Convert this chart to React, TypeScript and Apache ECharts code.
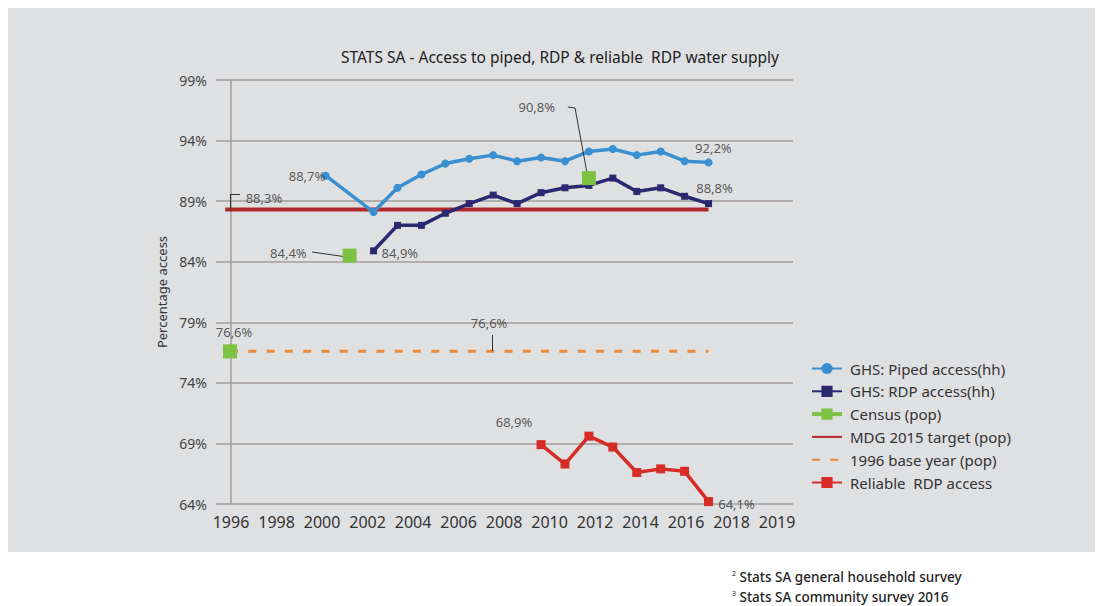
import React, { useEffect, useRef } from "react";
import * as echarts from "echarts";

const titleText = "STATS SA - Access to piped, RDP & reliable  RDP water supply";
const yAxisName = "Percentage access";
const xTickLabels = ["1996", "1998", "2000", "2002", "2004", "2006", "2008", "2010", "2012", "2014", "2016", "2018", "2019"];
const xTickIndex = [0, 1, 2, 3, 4, 5, 6, 7, 8, 9, 10, 11, 12];
const yTicks = [64, 69, 74, 79, 84, 89, 94, 99];

const seriesNames = [
  "GHS: Piped access(hh)",
  "GHS: RDP access(hh)",
  "Census (pop)",
  "MDG 2015 target (pop)",
  "1996 base year (pop)",
  "Reliable  RDP access",
];

const pipedYears = [2000, 2002, 2003, 2004, 2005, 2006, 2007, 2008, 2009, 2010, 2011, 2012, 2013, 2014, 2015, 2016];
const pipedValues = [91.1, 88.1, 90.1, 91.2, 92.1, 92.5, 92.8, 92.3, 92.6, 92.3, 93.1, 93.3, 92.8, 93.1, 92.3, 92.2];

const rdpYears = [2002, 2003, 2004, 2005, 2006, 2007, 2008, 2009, 2010, 2011, 2012, 2013, 2014, 2015, 2016];
const rdpValues = [84.9, 87.0, 87.0, 88.0, 88.8, 89.5, 88.8, 89.7, 90.1, 90.3, 90.9, 89.8, 90.1, 89.4, 88.8];

const censusYears = [1996, 2001, 2011];
const censusValues = [76.6, 84.5, 90.9];

const mdgYears = [1995.8, 2016];
const mdgValues = [88.3, 88.3];

const baseYears = [1996, 2016];
const baseValues = [76.6, 76.6];

const reliableYears = [2009, 2010, 2011, 2012, 2013, 2014, 2015, 2016];
const reliableValues = [68.9, 67.3, 69.6, 68.7, 66.6, 66.9, 66.7, 64.2];

const noteTexts = ["88,7%", "88,3%", "84,4%", "84,9%", "90,8%", "92,2%", "88,8%", "76,6%", "76,6%", "68,9%", "64,1%"];
const noteX = [1999.22, 1997.42, 1998.44, 2003.1, 2008.82, 2016.2, 2016.25, 1996.17, 2006.83, 2007.87, 2017.17];
const noteY = [91.08, 89.28, 84.72, 84.72, 96.77, 93.39, 90.09, 78.2, 78.94, 70.77, 64.0];

const leaderFrom = [[1999.43, 84.8], [1996, 88.27], [1996, 89.59], [2010.12, 96.77], [2010.42, 96.69], [2006.95, 77.95]];
const leaderTo = [[2000.89, 84.39], [1996, 89.59], [1996.42, 89.59], [2010.42, 96.69], [2010.96, 90.91], [2006.95, 76.63]];

const footnoteMarks = ["2", "3"];
const footnoteTexts = ["Stats SA general household survey", "Stats SA community survey 2016"];

const FONT = "'Noto Sans', 'Open Sans', sans-serif";

const zip = (xs: number[], ys: number[]) => xs.map((x, i) => [x, ys[i]]);

export default function App() {
  const ref = useRef<HTMLDivElement>(null);

  useEffect(() => {
    if (!ref.current) return;
    const chart = echarts.init(ref.current, undefined, { renderer: "svg" });
    const colors = ["#3a8fd0", "#2a2870", "#7dc242", "#b3282b", "#e98b3a", "#d62b27"];

    const option: any = {
      animation: false,
      backgroundColor: "#ffffff",
      textStyle: { fontFamily: FONT },
      title: {
        text: titleText,
        left: 328,
        top: 36,
        textStyle: { fontFamily: FONT, fontSize: 15.5, fontWeight: "normal", color: "#222" },
      },
      graphic: [
        {
          type: "rect",
          z: -10,
          silent: true,
          shape: { x: 0, y: 0, width: 1087, height: 544 },
          style: { fill: "#dfe0e2" },
        },
        ...footnoteTexts.map((t, i) => ({
          type: "text",
          x: 724,
          y: 569 + i * 20,
          style: {
            text: `{s|${footnoteMarks[i]}} ${t}`,
            verticalAlign: "middle",
            fill: "#222",
            font: `500 13.5px ${FONT}`,
            rich: {
              s: { fontSize: 7, verticalAlign: "top", fill: "#222", fontFamily: FONT },
            },
          },
        })),
      ],
      legend: {
        orient: "vertical",
        left: 797,
        top: 348,
        itemWidth: 30,
        itemHeight: 14,
        itemGap: 7.8,
        textStyle: { fontFamily: FONT, fontSize: 15, color: "#333", padding: [0, 0, 0, 3] },
        data: seriesNames.map((n, i) =>
          i === 2
            ? { name: n, lineStyle: { width: 4, color: colors[2], opacity: 1 } }
            : i === 3 || i === 4
            ? { name: n, itemStyle: { opacity: 0 } }
            : { name: n }
        ),
      },
      grid: { left: 208, right: 302, top: 72, bottom: 102, containLabel: false },
      xAxis: [
        {
          type: "value",
          min: 1995.415,
          max: 2019.53,
          axisLine: { show: false },
          axisTick: { show: false },
          axisLabel: { show: false },
          splitLine: { show: false },
        },
        {
          type: "value",
          position: "bottom",
          min: -0.33,
          max: 12.35,
          axisLine: { show: false },
          axisTick: { show: false, customValues: xTickIndex },
          splitLine: { show: false },
          axisLabel: {
            customValues: xTickIndex,
            formatter: (v: number) => xTickLabels[Math.round(v)],
            margin: 10,
            fontSize: 16,
            color: "#333",
            fontFamily: FONT,
          },
        },
      ],
      yAxis: {
        type: "value",
        min: 64,
        max: 99,
        name: yAxisName,
        nameLocation: "middle",
        nameGap: 28,
        nameTextStyle: { fontSize: 13, color: "#333", fontFamily: FONT },
        axisLine: { show: true, lineStyle: { color: "#a39e9b", width: 1.5 } },
        axisTick: { show: false, customValues: yTicks },
        axisLabel: {
          customValues: yTicks,
          formatter: "{value}%",
          fontSize: 14,
          color: "#444",
          margin: 9,
          padding: [5, 0, 0, 0],
          fontFamily: FONT,
        },
        splitLine: { show: true, lineStyle: { color: "#a39e9b", width: 1.5 } },
      },
      series: [
        {
          name: seriesNames[0],
          type: "line",
          xAxisIndex: 0,
          data: zip(pipedYears, pipedValues),
          symbol: "circle",
          symbolSize: 8,
          color: colors[0],
          lineStyle: { width: 3.5, color: colors[0] },
          itemStyle: { color: colors[0] },
          z: 4,
        },
        {
          name: seriesNames[1],
          type: "line",
          xAxisIndex: 0,
          data: zip(rdpYears, rdpValues),
          symbol: "rect",
          symbolSize: 7,
          color: colors[1],
          lineStyle: { width: 3.5, color: colors[1] },
          itemStyle: { color: colors[1] },
          z: 4,
        },
        {
          name: seriesNames[2],
          type: "line",
          xAxisIndex: 0,
          data: zip(censusYears, censusValues),
          symbol: "rect",
          symbolSize: 14,
          color: colors[2],
          lineStyle: { width: 0, opacity: 0 },
          itemStyle: { color: colors[2] },
          z: 5,
        },
        {
          name: seriesNames[3],
          type: "line",
          xAxisIndex: 0,
          data: zip(mdgYears, mdgValues),
          symbol: "none",
          color: colors[3],
          lineStyle: { width: 4, color: colors[3] },
          z: 3,
        },
        {
          name: seriesNames[4],
          type: "line",
          xAxisIndex: 0,
          data: zip(baseYears, baseValues),
          symbol: "none",
          color: colors[4],
          lineStyle: { width: 3, color: colors[4], type: [8, 10.3] },
          z: 3,
        },
        {
          name: seriesNames[5],
          type: "line",
          xAxisIndex: 0,
          data: zip(reliableYears, reliableValues),
          symbol: "rect",
          symbolSize: 9,
          color: colors[5],
          lineStyle: { width: 3.5, color: colors[5] },
          itemStyle: { color: colors[5] },
          z: 4,
        },
        {
          name: "notes",
          type: "scatter",
          xAxisIndex: 0,
          silent: true,
          clip: false,
          symbolSize: 0,
          itemStyle: { color: "rgba(0,0,0,0)" },
          z: 6,
          data: noteTexts.map((t, i) => ({ name: t, value: [noteX[i], noteY[i]] })),
          label: {
            show: true,
            position: "inside",
            formatter: "{b}",
            fontSize: 13,
            lineHeight: 14,
            color: "#333",
            fontFamily: FONT,
          },
          markLine: {
            silent: true,
            symbol: "none",
            label: { show: false },
            lineStyle: { color: "#333", width: 1, type: "solid" },
            data: leaderFrom.map((p, i) => [{ coord: p }, { coord: leaderTo[i] }]),
          },
        },
      ],
    };

    chart.setOption(option);
    return () => chart.dispose();
  }, []);

  return (
    <div
      ref={ref}
      style={{ position: "fixed", left: 8, top: 8, width: 1087, height: 598 }}
    />
  );
}
